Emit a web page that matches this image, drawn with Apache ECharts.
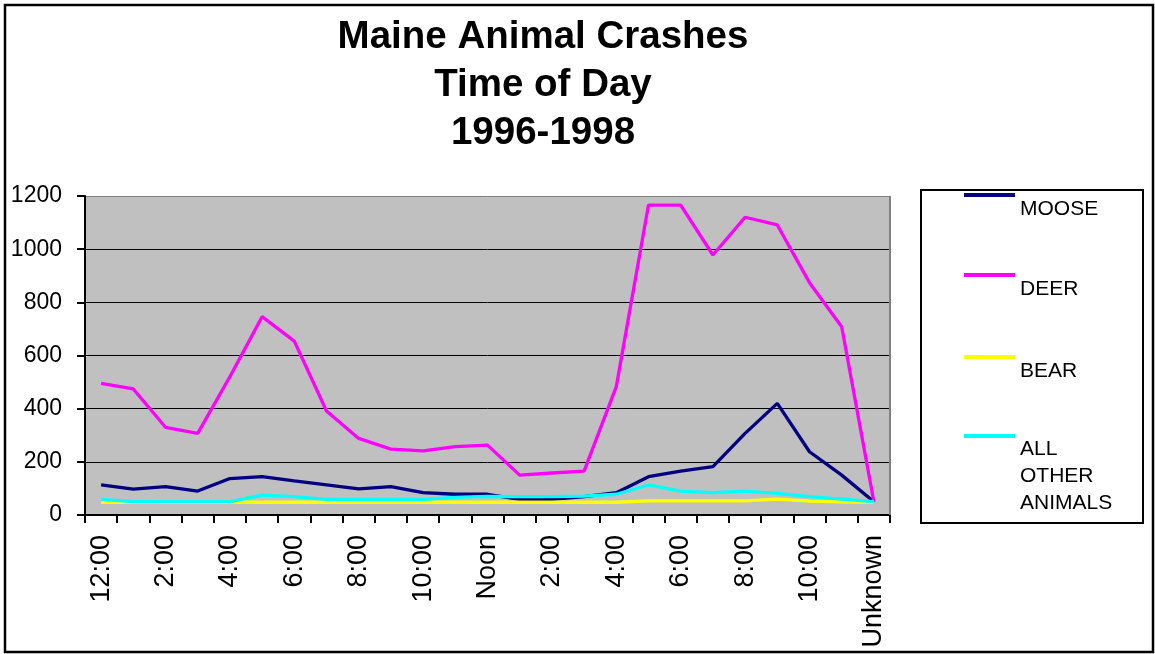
<!DOCTYPE html>
<html>
<head>
<meta charset="utf-8">
<title>Maine Animal Crashes</title>
<script src="https://cdn.jsdelivr.net/npm/echarts@6.0.0/dist/echarts.min.js"></script>
<style>
	html, body { margin: 0; padding: 0; background: #fff; }
	#chart { width: 1155px; height: 654px; }
</style>
</head>
<body>
<div id="chart"></div>
<script>
// hours of the day, then unknown
var categories = ['12:00', '1:00', '2:00', '3:00', '4:00', '5:00', '6:00', '7:00', '8:00', '9:00', '10:00', '11:00',
	'Noon', '1:00', '2:00', '3:00', '4:00', '5:00', '6:00', '7:00', '8:00', '9:00', '10:00', '11:00', 'Unknown'];
var yTicks = [0, 200, 400, 600, 800, 1000, 1200];

var moose = [113, 97, 107, 90, 137, 144, 128, 113, 98, 107, 84, 78, 78, 59, 59, 69, 84, 144, 165, 182, 307, 420, 238, 150, 50];
var deer = [495, 474, 330, 307, 520, 746, 654, 391, 288, 248, 241, 257, 263, 150, 158, 165, 483, 1166, 1166, 978, 1120, 1091, 874, 708, 50];
var bear = [48, 48, 48, 48, 48, 48, 48, 48, 48, 48, 48, 48, 48, 48, 48, 48, 48, 53, 53, 53, 53, 60, 52, 49, 48];
var other = [59, 50, 50, 50, 50, 75, 69, 59, 59, 59, 59, 66, 70, 69, 69, 71, 78, 113, 90, 84, 90, 81, 69, 60, 50];

var seriesNames = ['MOOSE', 'DEER', 'BEAR', 'ALL OTHER ANIMALS'];
var seriesColors = ['#000080', '#FF00FF', '#FFFF00', '#00FFFF'];

var font = 'Liberation Sans, Arial, sans-serif';

var myChart = echarts.init(document.getElementById('chart'));

// one legend per entry, text sits under the line like the old excel legend
// (blank lines above the text push it down below the icon)
function legendItem(name, top) {
	var multi = name === 'ALL OTHER ANIMALS';
	return {
		data: [name],
		orient: 'vertical',
		left: 964,
		top: top,
		padding: 0,
		itemWidth: 51,
		itemHeight: 4,
		icon: 'rect',
		selectedMode: false,
		formatter: function(n) {
			return multi ? '\n\n\nALL\nOTHER\nANIMALS' : '\n' + n;
		},
		textStyle: {
			fontFamily: font,
			fontSize: 21,
			color: '#000',
			lineHeight: multi ? 27 : 28
		}
	};
}

var series = [];
var data = [moose, deer, bear, other];
for (var i = 0; i < seriesNames.length; i++) {
	series.push({
		name: seriesNames[i],
		type: 'line',
		data: data[i],
		symbol: 'none',
		color: seriesColors[i],
		lineStyle: { width: 3.3, color: seriesColors[i] }
	});
}

var option = {
	animation: false,
	backgroundColor: '#fff',
	title: {
		text: 'Maine Animal Crashes\nTime of Day\n1996-1998',
		left: 543,
		textAlign: 'center',
		top: 13,
		padding: 0,
		textStyle: {
			fontFamily: font,
			fontSize: 38.5,
			fontWeight: 'bold',
			color: '#000',
			lineHeight: 48
		}
	},
	legend: [
		legendItem('MOOSE', 167),
		legendItem('DEER', 247),
		legendItem('BEAR', 329),
		legendItem('ALL OTHER ANIMALS', 355)
	],
	grid: {
		left: 85,
		right: 265,
		top: 196,
		bottom: 139,
		show: true,
		backgroundColor: '#C0C0C0',
		borderWidth: 0
	},
	xAxis: {
		type: 'category',
		boundaryGap: true,
		data: categories,
		axisLine: { lineStyle: { color: '#000', width: 2 } },
		axisTick: { show: true, interval: 0, length: 8, lineStyle: { color: '#000', width: 2 } },
		axisLabel: {
			interval: 1,
			rotate: 90,
			margin: 20,
			fontFamily: font,
			fontSize: 27,
			color: '#000'
		},
		splitLine: { show: false }
	},
	yAxis: {
		type: 'value',
		min: yTicks[0],
		max: yTicks[yTicks.length - 1],
		interval: 200,
		axisLine: { show: true, lineStyle: { color: '#000', width: 2 } },
		axisTick: { show: true, length: 8, lineStyle: { color: '#000', width: 2 } },
		axisLabel: {
			margin: 23,
			fontFamily: font,
			fontSize: 23,
			color: '#000',
			formatter: function(v) { return String(v); }
		},
		splitLine: {
			show: true,
			lineStyle: {
				// last one is the top border of the plot, grey like excel
				color: ['#000', '#000', '#000', '#000', '#000', '#000', '#808080'],
				width: 1
			}
		}
	},
	graphic: [
		{
			// right border of the plot
			type: 'line',
			shape: { x1: 890, y1: 196, x2: 890, y2: 515 },
			style: { stroke: '#808080', lineWidth: 2 },
			z: 1
		},
		{
			type: 'rect',
			shape: { x: 921, y: 190, width: 222, height: 333 },
			style: { fill: 'none', stroke: '#000', lineWidth: 2 },
			z: 1
		},
		{
			type: 'rect',
			shape: { x: 5, y: 5, width: 1148, height: 647 },
			style: { fill: 'none', stroke: '#000', lineWidth: 2.5 },
			z: 1
		}
	],
	series: series
};

myChart.setOption(option);
</script>
</body>
</html>
